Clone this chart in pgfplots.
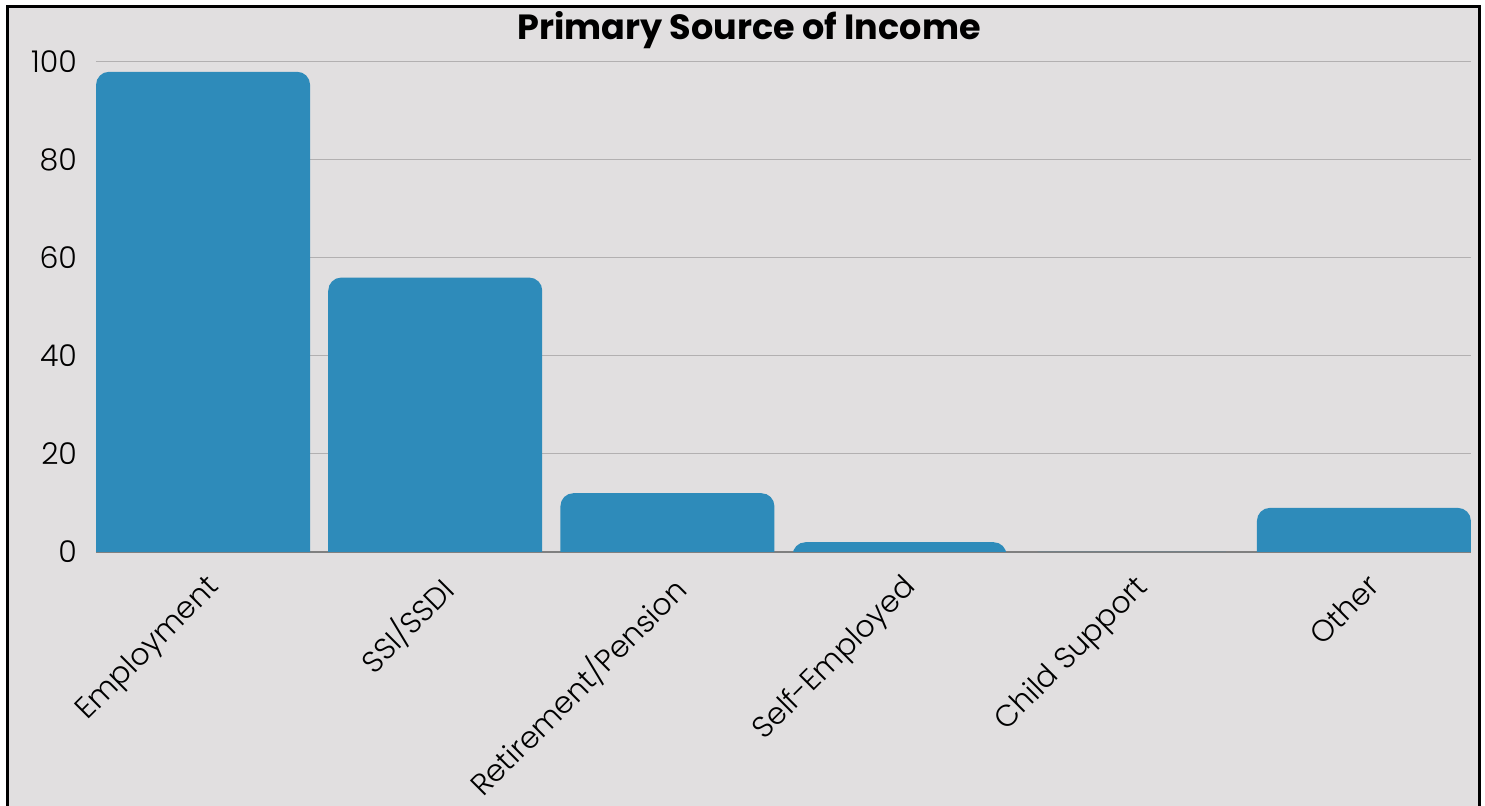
\documentclass[border=0pt]{standalone}
\usepackage{pgfplots}
\usepackage{pgfplotstable}
\pgfplotsset{compat=1.18}
\usepackage{fontspec}
\setmainfont{Poppins}
\IfFontExistsTF{Poppins Light}{\newfontfamily\lightfont{Poppins Light}}{\newfontfamily\lightfont{Poppins}}

\definecolor{chartbg}{HTML}{E1DFE0}
\definecolor{barblue}{HTML}{2E8BBA}
\definecolor{gridgray}{HTML}{B2B0B1}

% primary source of income, counts
\pgfplotstableread{
x v
0 98
1 56
2 12
3 2
4 0
5 9
}\income

\begin{document}
\begin{tikzpicture}[x=1pt,y=1pt]
\useasboundingbox (0,0) rectangle (742.5,403);
\fill[white] (0,0) rectangle (742.5,403);
\fill[chartbg] (3.5,0) rectangle (739.5,399.5);
\draw[line width=1.5pt] (3.5,-5) -- (3.5,399.5) -- (739.5,399.5) -- (739.5,-5);
\node[font=\bfseries\fontsize{17.5}{20}\selectfont, anchor=base] at (374.5,383) {Primary Source of Income};

\begin{axis}[
    at={(48pt,127pt)}, anchor=south west,
    scale only axis,
    width=687.5pt, height=245pt,
    ybar stacked,
    stack negative=on previous,
    bar width=107pt,
    xmin=-0.4612, xmax=5.4612,
    ymin=0, ymax=100,
    enlargelimits=false,
    xtick={0,...,5},
    xticklabels={Employment,SSI/SSDI,Retirement/Pension,Self-Employed,Child Support,Other},
    ytick={0,20,...,100},
    major tick length=0pt,
    axis x line*=bottom,
    axis y line*=left,
    x axis line style={draw=gray, line width=0.8pt, -},
    y axis line style={draw=none},
    ymajorgrids,
    grid style={draw=gridgray, line width=0.5pt},
    tick label style={font=\lightfont\fontsize{15}{18}\selectfont},
    /pgf/number format/assume math mode=true,
    yticklabel style={anchor=east, xshift=-6pt},
    xticklabel style={xshift=0.7pt, yshift=-5.3pt, rotate=45, anchor=north east},
]
% invisible base below zero so only the top corners of the bars show rounded
\addplot[draw=none, fill=none, forget plot] coordinates {(0,-10)(1,-10)(2,-10)(3,-10)(4,-10)(5,-10)};
\addplot[fill=barblue, draw=none, rounded corners=6.5pt] table[x=x, y expr=\thisrow{v}+10] {\income};
\end{axis}
\end{tikzpicture}
\end{document}
